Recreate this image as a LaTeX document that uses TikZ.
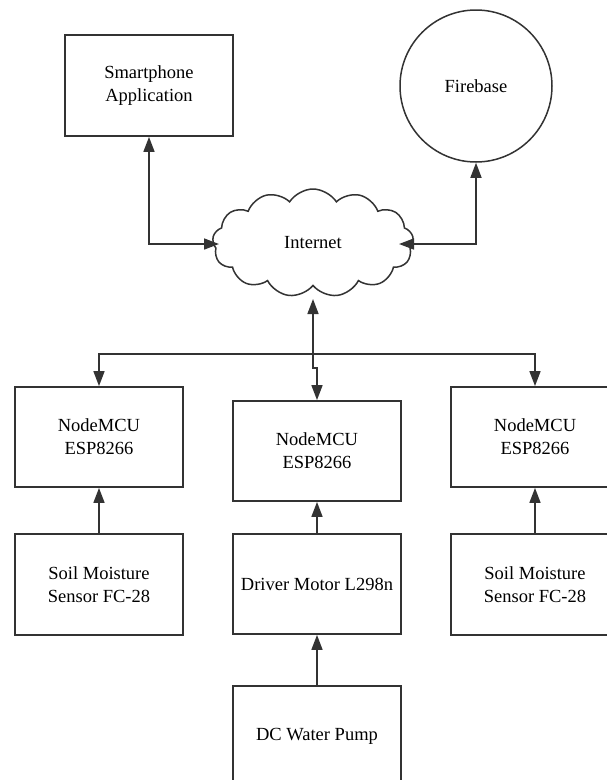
\documentclass[tikz,border=0pt]{standalone}
\usepackage{fontspec}
\setmainfont{Liberation Serif}
\usetikzlibrary{arrows.meta,shapes.symbols,shapes.geometric}
\begin{document}
\begin{tikzpicture}[x=1pt,y=-1pt,
  txt/.style={font=\fontsize{18.5}{23}\selectfont},
  box/.style={txt, draw=black!80, line width=1.8pt, minimum width=168pt, minimum height=100pt,
    align=center, inner sep=0pt},
  conn/.style={line width=1.6pt, draw=black!80},
  tipend/.style={-{Triangle[length=15pt,width=11pt]}},
  tipboth/.style={{Triangle[length=15pt,width=11pt]}-{Triangle[length=15pt,width=11pt]}}
]
\useasboundingbox[fill=white] (0,0) rectangle (607,780);

\node[box, minimum height=101pt] (phone) at (149,85.5) {Smartphone\\Application};
\node[txt, circle, draw=black!80, line width=1.5pt, minimum size=152pt, inner sep=0pt] (fb) at (476,86) {Firebase};
\node[txt, cloud, cloud puffs=13, cloud puff arc=115, aspect=1.9, draw=black!80, line width=1.5pt,
      minimum width=201pt, minimum height=108pt, inner sep=0pt] (net) at (313,243) {Internet};

\node[box] (n1) at (99,437) {NodeMCU\\ESP8266};
\node[box] (n2) at (317,451) {NodeMCU\\ESP8266};
\node[box] (n3) at (535,437) {NodeMCU\\ESP8266};
\node[box, minimum height=101pt] (s1) at (99,584.5) {Soil Moisture\\Sensor FC-28};
\node[box] (drv) at (317,584) {Driver Motor L298n};
\node[box, minimum height=101pt] (s3) at (535,584.5) {Soil Moisture\\Sensor FC-28};
\node[box] (pump) at (317,736) {DC Water Pump};

\coordinate (cl) at (219,244);
\coordinate (cr) at (399,244);
\coordinate (cb) at (313,299);

\draw[conn, tipboth] (phone.south) |- (cl);
\draw[conn, tipboth] (fb.south) |- (cr);
\draw[conn, tipboth] (cb) -- ++(0,69) -| (n2.north);
\draw[conn, tipboth] (n1.north) -- ++(0,-32) -| (n3.north);
\draw[conn, tipend] (s1.north) -- (n1.south);
\draw[conn, tipend] (drv.north) -- (n2.south);
\draw[conn, tipend] (s3.north) -- (n3.south);
\draw[conn, tipend] (pump.north) -- (drv.south);
\end{tikzpicture}
\end{document}
